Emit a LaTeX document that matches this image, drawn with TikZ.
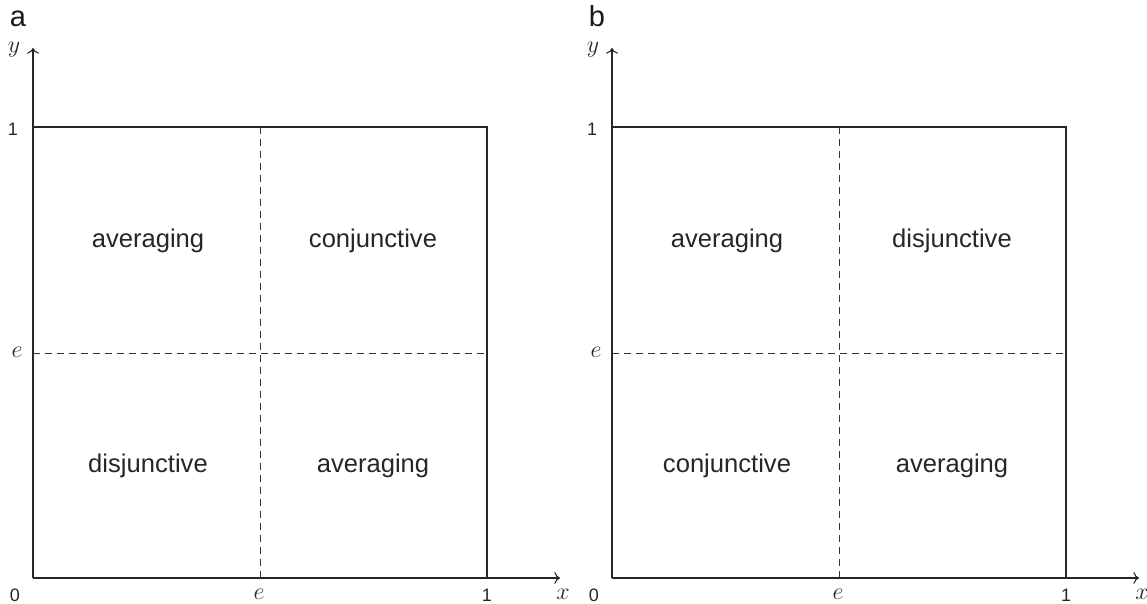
\documentclass[tikz,border=0pt]{standalone}
\usepackage{fontspec}
\setmainfont{Liberation Sans}
\usetikzlibrary{arrows.meta,positioning}
\tikzset{
  axis/.style={->,line width=0.55pt,black!85},
  edge/.style={line width=0.55pt,black!85},
  split/.style={line width=0.45pt,black!80,dash pattern=on 3.5pt off 2.5pt},
  region/.style={font=\fontsize{12.8}{15}\selectfont,text=black!85},
  tick/.style={font=\fontsize{9}{11}\selectfont,text=black!85},
  mathlbl/.style={font=\fontsize{12}{14}\selectfont,text=black!85,inner sep=0.5pt},
  panel/.style={font=\fontsize{14.5}{17}\selectfont,text=black!90,inner sep=0.5pt,anchor=base}
}
\begin{document}
\begin{tikzpicture}[x=0.5pt,y=-0.5pt]
  \useasboundingbox (0,0) rectangle (1147,604);

  \foreach \p/\ox/\ul/\ur/\ll/\lr in
      {a/0/averaging/conjunctive/disjunctive/averaging,
       b/579/averaging/disjunctive/conjunctive/averaging}{
    \begin{scope}[xshift=\ox*0.5pt]
      % axes and unit square
      \coordinate (\p o) at (33,578);
      \coordinate (\p ytop) at (33,48);
      \coordinate (\p xend) at (560,578);
      \coordinate (\p tl) at (33,127);
      \coordinate (\p tr) at (487,127);
      \coordinate (\p br) at (487,578);
      \coordinate (\p et) at (260,127);
      \coordinate (\p eb) at (260,578);
      \coordinate (\p el) at (33,353);
      \coordinate (\p er) at (487,353);

      \draw[axis] (\p o) -- (\p ytop);
      \draw[axis] (\p o) -- (\p xend);
      \draw[edge] (\p tl) -- (\p tr) -- (\p br);
      \draw[split] (\p et) -- (\p eb);
      \draw[split] (\p el) -- (\p er);

      % labels
      \node[panel] (\p name) at (18,27) {\p};
      \node[mathlbl] (\p ylbl) at (14,50) {$y$};
      \node[tick] (\p one) at (13,129) {1};
      \node[mathlbl] (\p elft) at (17,352) {$e$};
      \node[tick] (\p zero) at (15,595) {0};
      \node[mathlbl] (\p ebot) at (259,594) {$e$};
      \node[tick] (\p onex) at (487,595) {1};
      \node[mathlbl] (\p xlbl) at (563,594) {$x$};

      % regions
      \node[region] (\p ul) at (148,241) {\ul};
      \node[region] (\p ur) at (373,241) {\ur};
      \node[region] (\p ll) at (148,466) {\ll};
      \node[region] (\p lr) at (373,466) {\lr};
    \end{scope}
  }
\end{tikzpicture}
\end{document}
